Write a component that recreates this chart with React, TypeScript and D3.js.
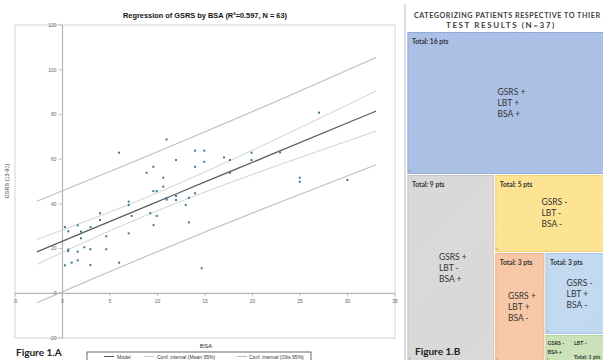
import React from 'react';
import * as d3 from 'd3';

// Patient observations: body surface area affected vs. GSRS score
const bsa = [
  5.95, 10.95, 8.86, 9.56, 10.61, 9.56, 9.92, 10.61, 6.97, 6.97, 10.95, 10.95,
  3.95, 3.95, 7.28, 9.24, 9.92, 9.58, 6.97, 0.26, 0.61, 1.6, 1.95, 1.95, 2.95,
  4.6, 0.6, 0.6, 1.6, 2.3, 2.93, 4.6, 0.26, 0.97, 1.6, 2.93, 5.95, 11.95, 13.95,
  14.93, 13.95, 14.93, 17.0, 17.63, 17.63, 11.95, 11.95, 13.3, 13.95, 12.97,
  13.3, 14.65, 19.9, 19.9, 22.9, 24.97, 24.97, 29.98, 27.0,
];
const gsrs = [
  62.9, 68.8, 53.9, 56.6, 51.7, 45.7, 45.7, 47.7, 41.0, 39.5, 42.6, 41.9,
  35.8, 32.8, 34.6, 35.8, 34.6, 30.5, 26.8, 29.6, 27.7, 30.4, 27.6, 24.6, 29.6,
  25.5, 19.6, 18.8, 18.6, 20.6, 19.7, 19.7, 12.5, 13.7, 14.7, 12.6, 13.7, 59.6,
  63.8, 63.8, 56.6, 58.8, 60.8, 59.6, 53.9, 43.6, 41.7, 42.7, 44.7, 39.5,
  31.7, 11.2, 62.9, 59.6, 63.0, 51.7, 49.9, 50.7, 80.8,
];

// Fitted model and 95% interval curves, sampled along BSA
const fitX = [-2.7, 4, 9, 15, 22, 33];
const fitModel = [18.5, 30.4, 39.2, 49.8, 62.1, 81.5];
const fitMeanLow = [12.9, 26.1, 35.2, 45.3, 56.2, 72.5];
const fitMeanHigh = [24.1, 34.7, 43.2, 54.3, 68.0, 90.5];
const fitObsLow = [-4.2, 8.0, 16.9, 27.4, 39.3, 57.5];
const fitObsHigh = [41.2, 52.8, 61.5, 72.2, 84.9, 105.5];

const xTicks = [-5, 0, 5, 10, 15, 20, 25, 30, 35];
const yTicks = [-20, 0, 20, 40, 60, 80, 100, 120];

// Patient groups by test outcome
const groupLabels = [
  ['GSRS +', 'LBT +', 'BSA +'],
  ['GSRS +', 'LBT -', 'BSA +'],
  ['GSRS -', 'LBT -', 'BSA -'],
  ['GSRS +', 'LBT +', 'BSA -'],
  ['GSRS -', 'LBT +', 'BSA -'],
  ['GSRS -', 'LBT -', 'BSA +'],
];
const groupCounts = [16, 9, 5, 3, 3, 1];
const groupColors = ['#a8bde4', '#d7d7d7', '#fde28e', '#f7c5a3', '#bed7ef', '#c7e1b5'];
const groupStrokes = ['#8ea7d8', '#c4c4c4', '#f2cf6e', '#eaae86', '#a4c3e2', '#acd096'];

const sansA = '"Liberation Sans", Arial, sans-serif';
const sansB = 'Lato, "Open Sans", sans-serif';

type Leaf = { idx: number; value: number };
type Node = { children: (Node | Leaf)[] } | Leaf;

export default function App() {
  const x = d3.scaleLinear().domain([-5, 35]).range([15, 395]);
  const y = d3.scaleLinear().domain([-20, 120]).range([338, 25]);

  const curve = (vals: number[]) =>
    d3
      .line<number>()
      .x((_, i) => x(fitX[i]))
      .y((v) => y(v))
      .curve(d3.curveMonotoneX)(vals) || '';

  // Nested alternating slice/dice layout for the treemap
  let nested: Node = { idx: groupCounts.length - 1, value: groupCounts[groupCounts.length - 1] };
  for (let i = groupCounts.length - 2; i >= 0; i--) {
    nested = { children: [{ idx: i, value: groupCounts[i] }, nested] };
  }
  const root = d3
    .hierarchy<Node>(nested, (d: any) => d.children)
    .sum((d: any) => (d.children ? 0 : d.value));
  const tile = (node: any, x0: number, y0: number, x1: number, y1: number) =>
    (node.depth % 2 === 0 ? d3.treemapSlice : d3.treemapDice)(node, x0, y0, x1, y1);
  d3.treemap<Node>().tile(tile as any).size([205, 330.5])(root);
  const leaves = root.leaves() as any[];
  const ox = 407;
  const oy = 31.5;

  return (
    <svg
      width={603}
      height={360}
      style={{ position: 'fixed', left: 0, top: 0, background: '#fff' }}
    >
      <defs>
        <pattern id="hatch" patternUnits="userSpaceOnUse" width={3} height={3} patternTransform="rotate(45)">
          <line x1={0} y1={0} x2={0} y2={3} stroke="#ffffff" strokeOpacity={0.28} strokeWidth={1} />
        </pattern>
        <clipPath id="plotClip">
          <rect x={15} y={25} width={380} height={313} />
        </clipPath>
      </defs>

      {/* ---------- Regression chart ---------- */}
      <text x={205} y={18} textAnchor="middle" fontFamily={sansA} fontWeight="bold" fontSize={7.4} fill="#111">
        Regression of GSRS by BSA (R²=0.597, N = 63)
      </text>
      <rect x={15} y={25} width={380} height={313} fill="none" stroke="#d4d4d4" strokeWidth={1} />

      {/* axes */}
      <line x1={x(0)} x2={x(0)} y1={25} y2={338} stroke="#b4b4b4" strokeWidth={1.2} />
      <line x1={15} x2={395} y1={y(0)} y2={y(0)} stroke="#b4b4b4" strokeWidth={1.2} />
      {yTicks.map((t) => (
        <g key={'y' + t}>
          <line x1={x(0) - 4} x2={x(0)} y1={y(t)} y2={y(t)} stroke="#b4b4b4" strokeWidth={0.8} />
          <text x={x(0) - 6} y={y(t) + 1.8} textAnchor="end" fontFamily={sansA} fontSize={5} fill="#666">
            {t}
          </text>
        </g>
      ))}
      {xTicks.map((t) => (
        <g key={'x' + t}>
          <line x1={x(t)} x2={x(t)} y1={y(0)} y2={y(0) + 3} stroke="#b4b4b4" strokeWidth={0.8} />
          <text x={x(t)} y={y(0) + 9.5} textAnchor="middle" fontFamily={sansA} fontSize={5} fill="#666">
            {t}
          </text>
        </g>
      ))}
      <text
        transform={`translate(9, ${181}) rotate(-90)`}
        textAnchor="middle"
        fontFamily={sansA}
        fontSize={5.5}
        fill="#444"
      >
        GSRS (13-91)
      </text>
      <text x={206} y={348} textAnchor="middle" fontFamily={sansA} fontSize={6.2} fill="#333">
        BSA
      </text>

      {/* fitted lines */}
      <g clipPath="url(#plotClip)" fill="none">
        <path d={curve(fitObsHigh)} stroke="#bdbdbd" strokeWidth={1.1} />
        <path d={curve(fitObsLow)} stroke="#bdbdbd" strokeWidth={1.1} />
        <path d={curve(fitMeanHigh)} stroke="#d2d2d2" strokeWidth={1} />
        <path d={curve(fitMeanLow)} stroke="#d2d2d2" strokeWidth={1} />
        <path d={curve(fitModel)} stroke="#5e5e5e" strokeWidth={1.3} />
      </g>

      {/* observations */}
      {bsa.map((b, i) => (
        <rect key={'p' + i} x={x(b) - 1} y={y(gsrs[i]) - 1} width={2} height={2} fill="#3b7b95" />
      ))}

      <text x={16} y={356} fontFamily={sansB} fontWeight="bold" fontSize={10} fill="#222">
        Figure 1.A
      </text>

      {/* legend */}
      <rect x={87} y={352} width={224} height={14} fill="#fff" stroke="#444" strokeWidth={0.8} />
      <line x1={104} x2={114} y1={356.5} y2={356.5} stroke="#555" strokeWidth={1} />
      <text x={117} y={358.5} fontFamily={sansA} fontSize={5} fill="#333">Model</text>
      <line x1={144} x2={154} y1={356.5} y2={356.5} stroke="#cfcfcf" strokeWidth={1} />
      <text x={157} y={358.5} fontFamily={sansA} fontSize={5} fill="#333">Conf. interval (Mean 95%)</text>
      <line x1={237} x2={247} y1={356.5} y2={356.5} stroke="#b8b8b8" strokeWidth={1} />
      <text x={249} y={358.5} fontFamily={sansA} fontSize={5} fill="#333">Conf. interval (Obs 95%)</text>

      {/* ---------- Patient categories treemap ---------- */}
      <line x1={405} x2={405} y1={4} y2={360} stroke="#bdbdbd" strokeWidth={1} />
      <text
        x={414}
        y={18}
        fontFamily={sansB}
        fontWeight="bold"
        fontSize={7.2}
        textLength={186}
        lengthAdjust="spacing"
        fill="#404040"
      >
        CATEGORIZING PATIENTS RESPECTIVE TO THIER
      </text>
      <text x={446} y={28} fontFamily={sansB} fontWeight="bold" fontSize={8} letterSpacing={1.6} fill="#404040">
        TEST RESULTS (N=37)
      </text>

      {leaves.map((lf) => {
        const d = lf.data as Leaf;
        const x0 = ox + lf.x0;
        const y0 = oy + lf.y0;
        const w = lf.x1 - lf.x0;
        const h = lf.y1 - lf.y0;
        const cx = x0 + w / 2;
        const cy = y0 + h / 2;
        const lines = groupLabels[d.idx];
        const small = h < 40;
        return (
          <g key={'c' + d.idx}>
            <rect x={x0} y={y0} width={w} height={h} fill={groupColors[d.idx]} stroke="#fff" strokeWidth={1} />
            <rect x={x0 + 1} y={y0 + 1} width={w - 2} height={h - 2} fill="url(#hatch)" stroke={groupStrokes[d.idx]} strokeWidth={0.8} />
            <rect x={x0 + 2} y={y0 + h - 4} width={1.2} height={1.2} fill="#888" />
            {small ? (
              <g fontFamily={sansB} fontWeight="bold" fontSize={5.4} fill="#333">
                <text x={x0 + 2.5} y={y0 + 10}>{lines[0]}</text>
                <text x={x0 + 29} y={y0 + 10}>{lines[1]}</text>
                <text x={x0 + 2.5} y={y0 + 19}>{lines[2]}</text>
                <text x={x0 + 29} y={y0 + 24}>{`Total: ${d.value} pts`}</text>
              </g>
            ) : (
              <g>
                <text x={x0 + 5} y={y0 + 12.5} fontFamily={sansB} fontWeight="bold" fontSize={6.7} fill="#333">
                  {`Total: ${d.value} pts`}
                </text>
                {lines.map((ln, k) => (
                  <text
                    key={k}
                    x={cx - 12}
                    y={cy - 8 + k * 11}
                    fontFamily={sansB}
                    fontSize={8.5}
                    fill="#333"
                  >
                    {ln}
                  </text>
                ))}
              </g>
            )}
          </g>
        );
      })}

      <text x={415} y={355} fontFamily={sansB} fontWeight="bold" fontSize={10} fill="#222">
        Figure 1.B
      </text>
    </svg>
  );
}
